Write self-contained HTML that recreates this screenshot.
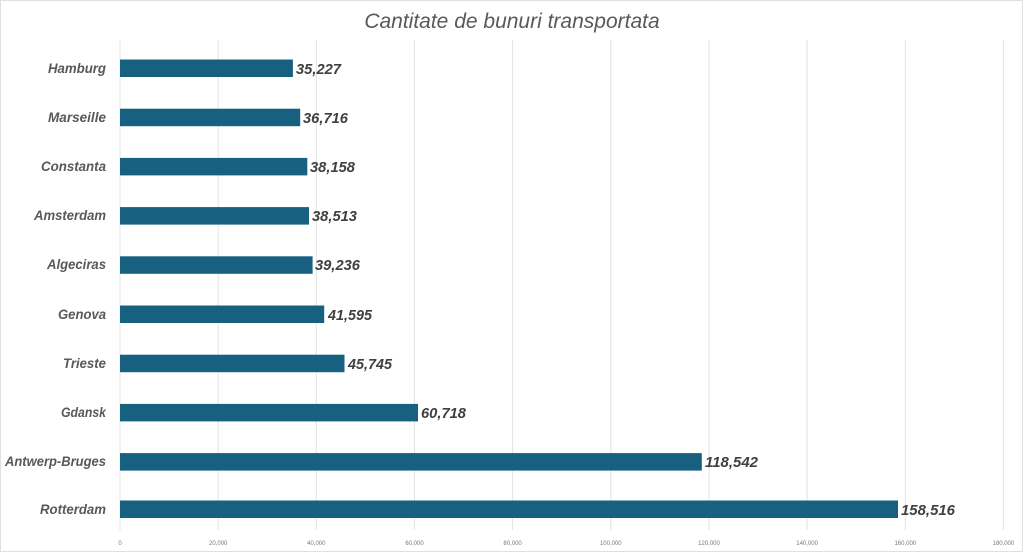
<!DOCTYPE html>
<html><head><style>body{margin:0;background:#fff}svg{display:block}</style></head><body>
<svg width="1024" height="558" xmlns="http://www.w3.org/2000/svg" font-family="Liberation Sans, sans-serif">
<rect x="0.5" y="0.5" width="1022" height="551" fill="#fff" stroke="#e0e0e0"/>
<text x="512" y="28" text-anchor="middle" font-size="21" font-style="italic" fill="#595959">Cantitate de bunuri transportata</text>
<g stroke="#e3e3e3" stroke-width="1">
<line x1="120" y1="40" x2="120" y2="530"/><line x1="218.2" y1="40" x2="218.2" y2="530"/><line x1="316.3" y1="40" x2="316.3" y2="530"/><line x1="414.5" y1="40" x2="414.5" y2="530"/><line x1="512.6" y1="40" x2="512.6" y2="530"/><line x1="610.8" y1="40" x2="610.8" y2="530"/><line x1="709" y1="40" x2="709" y2="530"/><line x1="807.1" y1="40" x2="807.1" y2="530"/><line x1="905.3" y1="40" x2="905.3" y2="530"/><line x1="1003.4" y1="40" x2="1003.4" y2="530"/>
</g>
<g font-size="6" fill="#777" text-anchor="middle">
<text x="120" y="545">0</text><text x="218.2" y="545">20,000</text><text x="316.3" y="545">40,000</text><text x="414.5" y="545">60,000</text><text x="512.6" y="545">80,000</text><text x="610.8" y="545">100,000</text><text x="709" y="545">120,000</text><text x="807.1" y="545">140,000</text><text x="905.3" y="545">160,000</text><text x="1003.4" y="545">180,000</text>
</g>
<g fill="#17607f">
<rect x="120" y="59.5" width="172.9" height="17.5"/>
<rect x="120" y="108.7" width="180.2" height="17.5"/>
<rect x="120" y="157.9" width="187.3" height="17.5"/>
<rect x="120" y="207.1" width="189" height="17.5"/>
<rect x="120" y="256.3" width="192.6" height="17.5"/>
<rect x="120" y="305.5" width="204.2" height="17.5"/>
<rect x="120" y="354.7" width="224.5" height="17.5"/>
<rect x="120" y="403.9" width="298" height="17.5"/>
<rect x="120" y="453.1" width="581.8" height="17.5"/>
<rect x="120" y="500.5" width="778" height="17.5"/>
</g>
<g font-size="15" font-weight="bold" font-style="italic" fill="#404040">
<text x="296" y="74" textLength="45" lengthAdjust="spacingAndGlyphs">35,227</text><text x="303" y="123" textLength="45" lengthAdjust="spacingAndGlyphs">36,716</text><text x="310" y="172" textLength="45" lengthAdjust="spacingAndGlyphs">38,158</text><text x="312" y="221" textLength="45" lengthAdjust="spacingAndGlyphs">38,513</text><text x="315" y="270" textLength="45" lengthAdjust="spacingAndGlyphs">39,236</text><text x="328" y="320" textLength="44" lengthAdjust="spacingAndGlyphs">41,595</text><text x="348" y="369" textLength="44" lengthAdjust="spacingAndGlyphs">45,745</text><text x="421" y="418" textLength="45" lengthAdjust="spacingAndGlyphs">60,718</text><text x="705" y="467" textLength="53" lengthAdjust="spacingAndGlyphs">118,542</text><text x="901" y="515" textLength="54" lengthAdjust="spacingAndGlyphs">158,516</text>
</g>
<g font-size="14" font-weight="bold" font-style="italic" fill="#595959">
<text x="48" y="73" textLength="58" lengthAdjust="spacingAndGlyphs">Hamburg</text>
<text x="48" y="122" textLength="58" lengthAdjust="spacingAndGlyphs">Marseille</text>
<text x="41" y="171" textLength="65" lengthAdjust="spacingAndGlyphs">Constanta</text>
<text x="34" y="220" textLength="72" lengthAdjust="spacingAndGlyphs">Amsterdam</text>
<text x="47" y="269" textLength="59" lengthAdjust="spacingAndGlyphs">Algeciras</text>
<text x="58" y="319" textLength="48" lengthAdjust="spacingAndGlyphs">Genova</text>
<text x="63" y="368" textLength="43" lengthAdjust="spacingAndGlyphs">Trieste</text>
<text x="61" y="417" textLength="45" lengthAdjust="spacingAndGlyphs">Gdansk</text>
<text x="5" y="466" textLength="101" lengthAdjust="spacingAndGlyphs">Antwerp-Bruges</text>
<text x="40" y="514" textLength="66" lengthAdjust="spacingAndGlyphs">Rotterdam</text>
</g>
</svg>
</body></html>
